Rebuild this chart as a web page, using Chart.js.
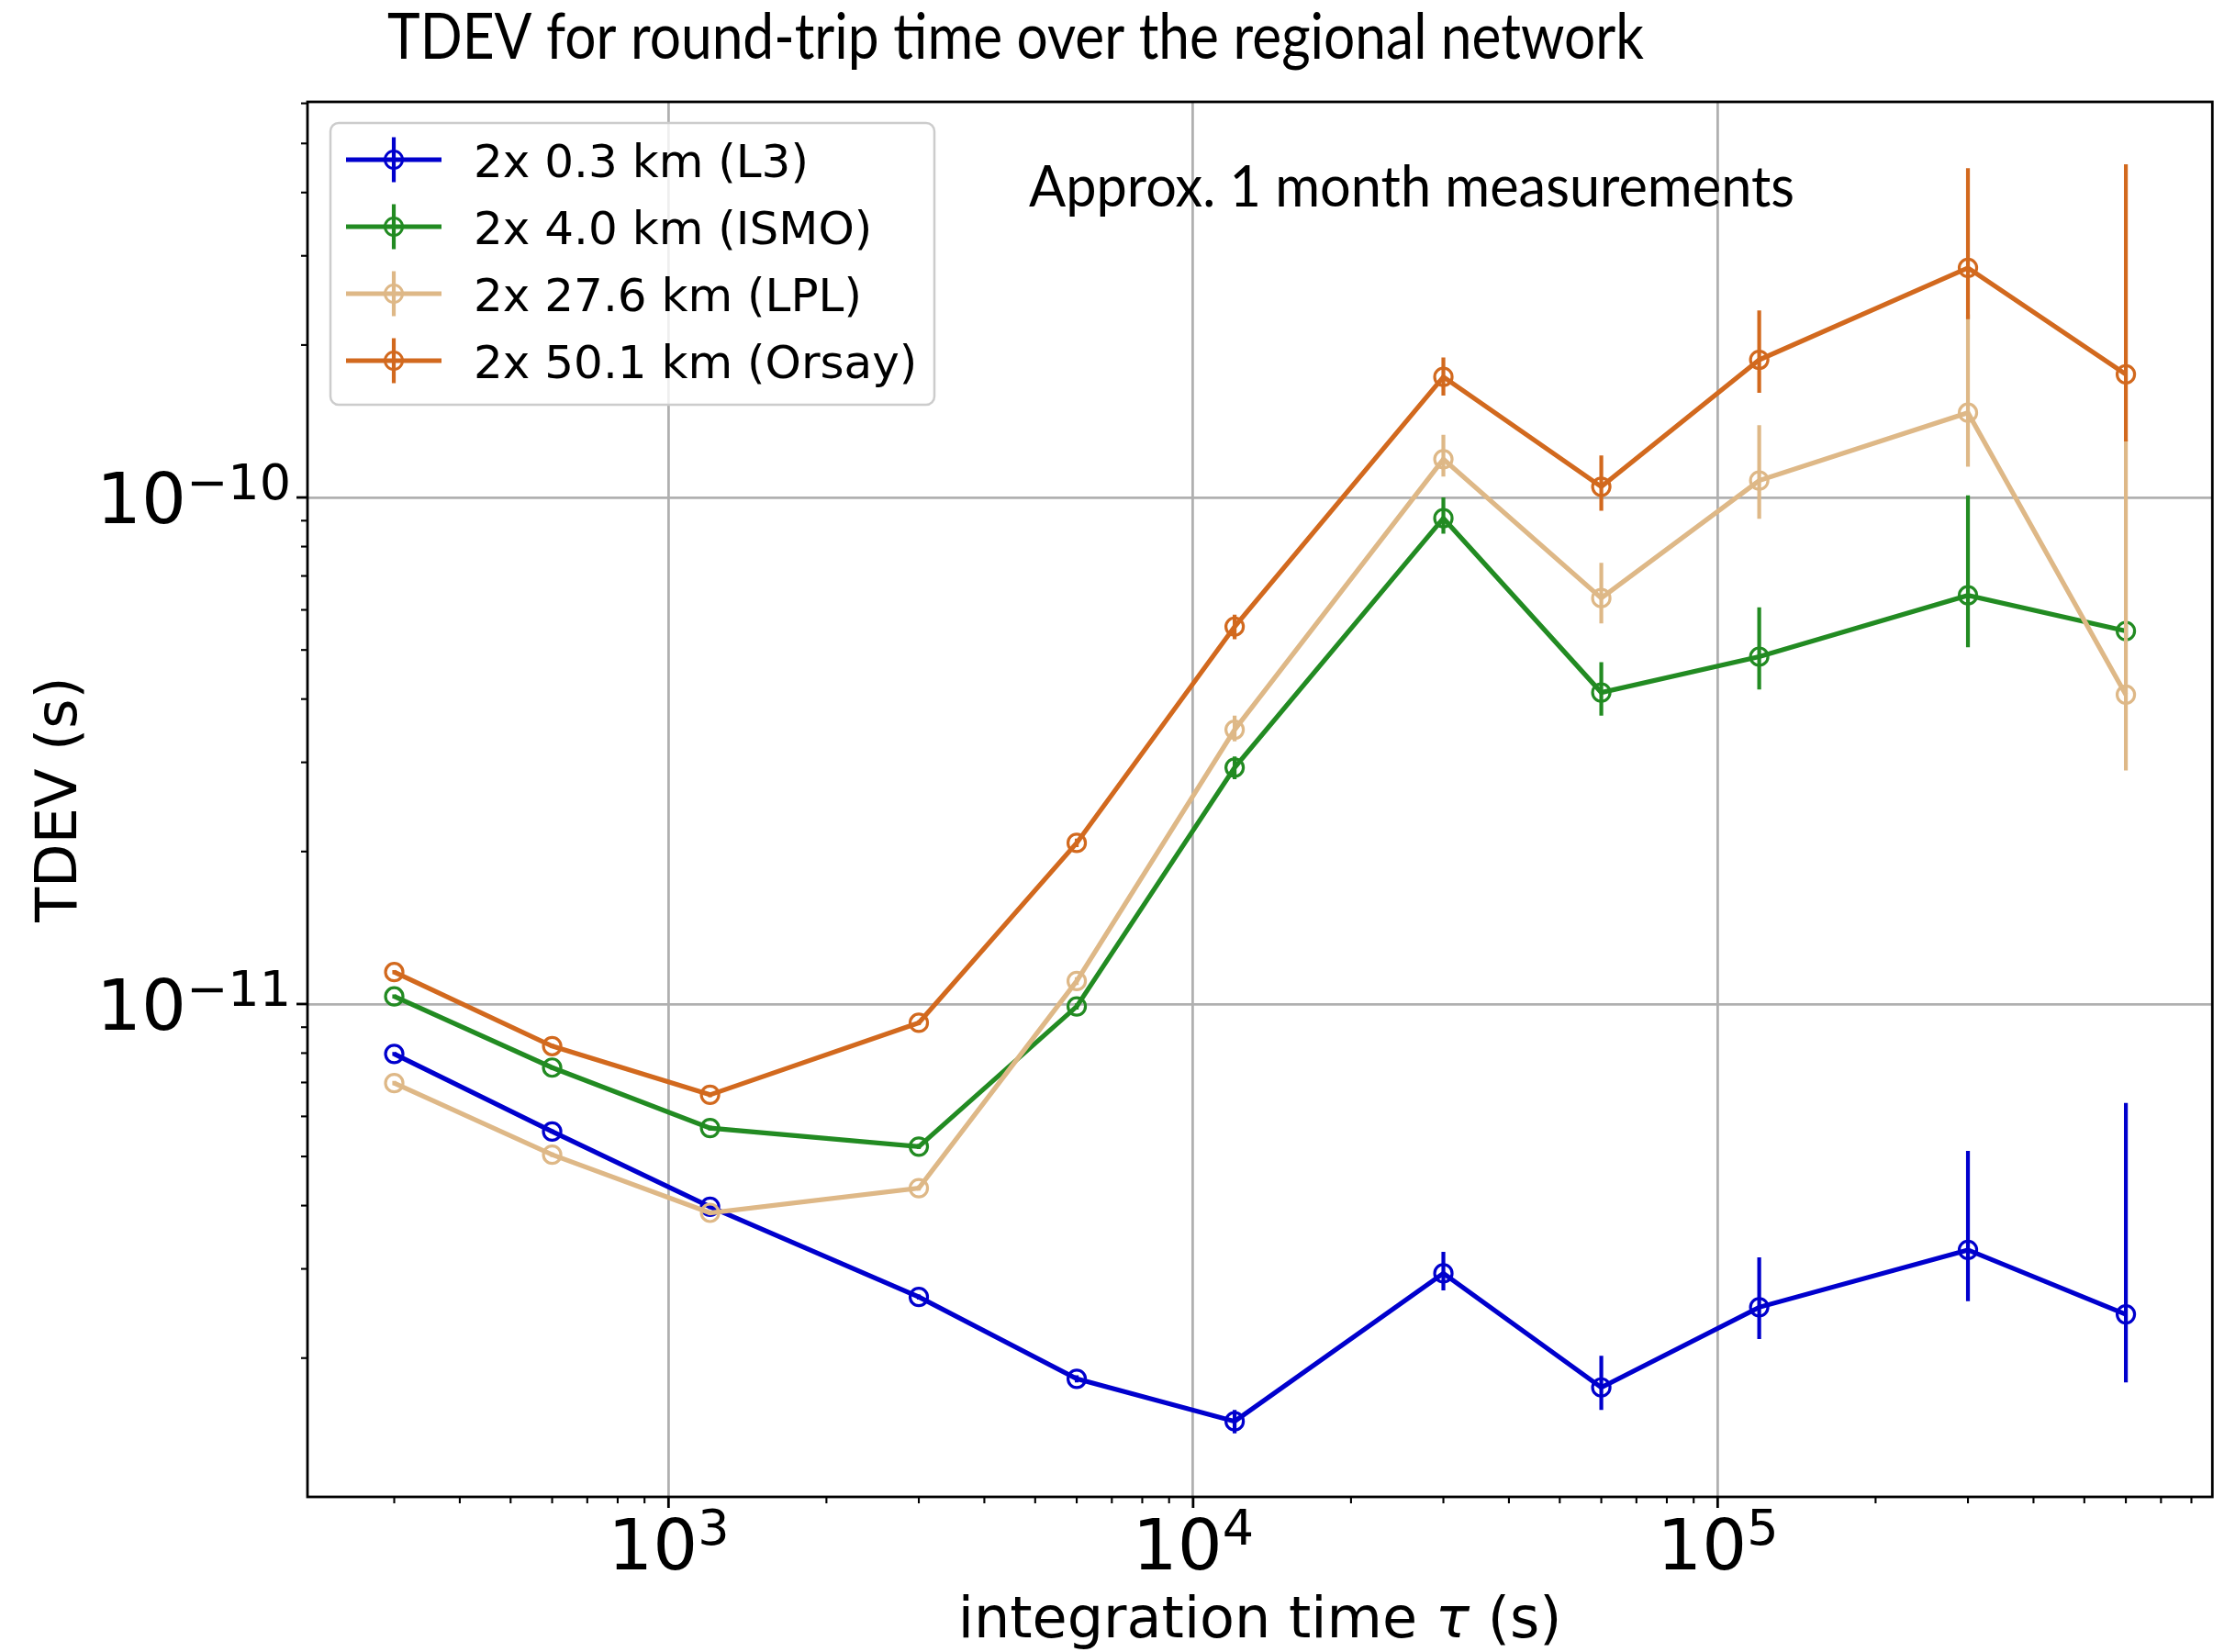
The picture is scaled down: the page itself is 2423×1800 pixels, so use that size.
<!DOCTYPE html>
<html>
<head>
<meta charset="utf-8">
<title>TDEV round-trip time</title>
<script src="https://cdn.jsdelivr.net/npm/chart.js@4.4.1/dist/chart.umd.min.js"></script>
<style>
  html, body { margin: 0; padding: 0; background: #fff; }
  canvas { display: block; }
</style>
</head>
<body>
<canvas id="tdevChart" width="2423" height="1800" style="width:2423px;height:1800px"></canvas>
<script>
// DATA (integration time tau in s, TDEV in s)
const taus = [300, 600, 1200, 3000, 6000, 12000, 30000, 60000, 120000, 300000, 600000];

const tdevL3   = [7.97e-12, 5.60e-12, 3.98e-12, 2.64e-12, 1.82e-12, 1.50e-12, 2.94e-12, 1.75e-12, 2.52e-12, 3.27e-12, 2.44e-12];
const loL3     = [7.90e-12, 5.55e-12, 3.94e-12, 2.61e-12, 1.79e-12, 1.42e-12, 2.72e-12, 1.58e-12, 2.18e-12, 2.59e-12, 1.79e-12];
const hiL3     = [8.04e-12, 5.65e-12, 4.02e-12, 2.67e-12, 1.85e-12, 1.58e-12, 3.24e-12, 2.02e-12, 3.16e-12, 5.13e-12, 6.38e-12];

const tdevISMO = [1.035e-11, 7.49e-12, 5.69e-12, 5.23e-12, 9.89e-12, 2.93e-11, 9.10e-11, 4.12e-11, 4.85e-11, 6.41e-11, 5.45e-11];
const loISMO   = [1.025e-11, 7.42e-12, 5.63e-12, 5.17e-12, 9.75e-12, 2.78e-11, 8.48e-11, 3.71e-11, 4.18e-11, 5.06e-11, 5.30e-11];
const hiISMO   = [1.045e-11, 7.56e-12, 5.75e-12, 5.29e-12, 1.003e-11, 3.08e-11, 1.00e-10, 4.73e-11, 6.07e-11, 1.01e-10, 5.60e-11];

const tdevLPL  = [6.98e-12, 5.04e-12, 3.87e-12, 4.33e-12, 1.11e-11, 3.48e-11, 1.19e-10, 6.33e-11, 1.08e-10, 1.47e-10, 4.08e-11];
const loLPL    = [6.91e-12, 4.99e-12, 3.83e-12, 4.28e-12, 1.09e-11, 3.30e-11, 1.10e-10, 5.64e-11, 9.08e-11, 1.15e-10, 2.89e-11];
const hiLPL    = [7.05e-12, 5.09e-12, 3.91e-12, 4.38e-12, 1.13e-11, 3.71e-11, 1.33e-10, 7.43e-11, 1.39e-10, 2.30e-10, 1.30e-10];

const tdevOrsay = [1.156e-11, 8.26e-12, 6.62e-12, 9.18e-12, 2.08e-11, 5.56e-11, 1.73e-10, 1.05e-10, 1.87e-10, 2.84e-10, 1.75e-10];
const loOrsay   = [1.145e-11, 8.18e-12, 6.55e-12, 9.08e-12, 2.04e-11, 5.25e-11, 1.59e-10, 9.42e-11, 1.61e-10, 2.25e-10, 1.29e-10];
const hiOrsay   = [1.167e-11, 8.34e-12, 6.69e-12, 9.28e-12, 2.12e-11, 5.87e-11, 1.89e-10, 1.21e-10, 2.34e-10, 4.47e-10, 4.55e-10];

const seriesLabels = ['2x 0.3 km (L3)', '2x 4.0 km (ISMO)', '2x 27.6 km (LPL)', '2x 50.1 km (Orsay)'];
const seriesColors = ['#0000cd', '#228b22', '#deb887', '#d2691e'];

// tick labels
const xMajorTicks = [1e3, 1e4, 1e5];
const xTickExp = ['3', '4', '5'];
const yMajorTicks = [1e-11, 1e-10];
const yTickExp = ['\u221211', '\u221210'];

const chartTitle = 'TDEV for round-trip time over the regional network';
const noteText = 'Approx. 1 month measurements';

// axis limits (log)
const xMin = 205, xMax = 877000;
const yMin = 1.064e-12, yMax = 6.04e-10;

const series = [
  { label: seriesLabels[0], color: seriesColors[0], vals: tdevL3, lo: loL3, hi: hiL3 },
  { label: seriesLabels[1], color: seriesColors[1], vals: tdevISMO, lo: loISMO, hi: hiISMO },
  { label: seriesLabels[2], color: seriesColors[2], vals: tdevLPL, lo: loLPL, hi: hiLPL },
  { label: seriesLabels[3], color: seriesColors[3], vals: tdevOrsay, lo: loOrsay, hi: hiOrsay }
];

const MPL = 'DejaVu Sans';

function minorTicks(min, max) {
  const out = [];
  for (let d = Math.floor(Math.log10(min)); d <= Math.ceil(Math.log10(max)); d++) {
    for (let m = 2; m <= 9; m++) {
      const v = m * Math.pow(10, d);
      if (v > min && v < max) out.push(v);
    }
  }
  return out;
}

// 10^exp label, align: 'right' or 'center'
function drawPow(ctx, exp, x, y, align, mainSize, supSize, raise) {
  ctx.font = `${mainSize}px "${MPL}"`;
  const w1 = ctx.measureText('10').width;
  ctx.font = `${supSize}px "${MPL}"`;
  const w2 = ctx.measureText(exp).width;
  const total = w1 + w2;
  const x0 = align === 'right' ? x - total : x - total / 2;
  ctx.textAlign = 'left';
  ctx.textBaseline = 'alphabetic';
  ctx.font = `${mainSize}px "${MPL}"`;
  ctx.fillText('10', x0, y);
  ctx.font = `${supSize}px "${MPL}"`;
  ctx.fillText(exp, x0 + w1, y - raise);
}

function fitText(ctx, text, x, y, size, family, targetW) {
  ctx.font = `${size}px ${family}`;
  const w = ctx.measureText(text).width;
  ctx.save();
  ctx.translate(x, y);
  ctx.scale(targetW / w, 1);
  ctx.textAlign = 'left';
  ctx.textBaseline = 'alphabetic';
  ctx.fillText(text, 0, 0);
  ctx.restore();
}

const tdevDecor = {
  id: 'tdevDecor',
  beforeDraw(chart) {
    const ctx = chart.ctx;
    ctx.save();
    ctx.fillStyle = '#ffffff';
    ctx.fillRect(0, 0, chart.width, chart.height);
    ctx.restore();
  },
  // error bars, drawn together with their own series
  afterDatasetDraw(chart, args) {
    const s = series[args.index];
    const xs = chart.scales.x, ys = chart.scales.y;
    const a = chart.chartArea;
    const ctx = chart.ctx;
    ctx.save();
    ctx.beginPath();
    ctx.rect(a.left, a.top, a.right - a.left, a.bottom - a.top);
    ctx.clip();
    ctx.strokeStyle = s.color;
    ctx.lineWidth = 4.2;
    ctx.lineCap = 'butt';
    taus.forEach((t, i) => {
      const px = xs.getPixelForValue(t);
      ctx.beginPath();
      ctx.moveTo(px, ys.getPixelForValue(s.lo[i]));
      ctx.lineTo(px, ys.getPixelForValue(s.hi[i]));
      ctx.stroke();
    });
    ctx.restore();
  },
  afterDraw(chart) {
    const ctx = chart.ctx;
    const a = chart.chartArea;
    const xs = chart.scales.x, ys = chart.scales.y;
    ctx.save();

    // frame
    ctx.strokeStyle = '#000';
    ctx.lineWidth = 2.8;
    ctx.strokeRect(a.left, a.top, a.right - a.left, a.bottom - a.top);

    // tick marks
    ctx.lineWidth = 2.8;
    xMajorTicks.forEach(v => {
      const px = xs.getPixelForValue(v);
      ctx.beginPath(); ctx.moveTo(px, a.bottom); ctx.lineTo(px, a.bottom + 12); ctx.stroke();
    });
    yMajorTicks.forEach(v => {
      const py = ys.getPixelForValue(v);
      ctx.beginPath(); ctx.moveTo(a.left, py); ctx.lineTo(a.left - 12, py); ctx.stroke();
    });
    ctx.lineWidth = 2.1;
    minorTicks(xMin, xMax).forEach(v => {
      const px = xs.getPixelForValue(v);
      ctx.beginPath(); ctx.moveTo(px, a.bottom); ctx.lineTo(px, a.bottom + 7); ctx.stroke();
    });
    minorTicks(yMin, yMax).forEach(v => {
      const py = ys.getPixelForValue(v);
      ctx.beginPath(); ctx.moveTo(a.left, py); ctx.lineTo(a.left - 7, py); ctx.stroke();
    });

    // tick labels
    ctx.fillStyle = '#000';
    xMajorTicks.forEach((v, i) => {
      drawPow(ctx, xTickExp[i], xs.getPixelForValue(v), a.bottom + 79, 'center', 77, 54, 27);
    });
    yMajorTicks.forEach((v, i) => {
      drawPow(ctx, yTickExp[i], a.left - 18, ys.getPixelForValue(v) + 28, 'right', 77, 54, 26);
    });

    // axis titles
    ctx.font = `62px "${MPL}"`;
    ctx.textBaseline = 'alphabetic';
    ctx.save();
    ctx.translate(83, (a.top + a.bottom) / 2);
    ctx.rotate(-Math.PI / 2);
    ctx.textAlign = 'center';
    ctx.fillText('TDEV (s)', 0, 0);
    ctx.restore();

    const p1 = 'integration time ', p2 = '\u03c4', p3 = ' (s)';
    ctx.font = `62px "${MPL}"`;
    const w1 = ctx.measureText(p1).width, w3 = ctx.measureText(p3).width;
    ctx.font = `italic 62px "${MPL}"`;
    const w2 = ctx.measureText(p2).width;
    let tx = (a.left + a.right) / 2 - (w1 + w2 + w3) / 2;
    const ty = 1784;
    ctx.textAlign = 'left';
    ctx.font = `62px "${MPL}"`;
    ctx.fillText(p1, tx, ty);
    ctx.font = `italic 62px "${MPL}"`;
    ctx.fillText(p2, tx + w1, ty);
    ctx.font = `62px "${MPL}"`;
    ctx.fillText(p3, tx + w1 + w2, ty);

    // legend
    const lx = 360, ly = 134, lw = 658, lh = 307;
    ctx.beginPath();
    ctx.roundRect(lx, ly, lw, lh, 9);
    ctx.fillStyle = 'rgba(255,255,255,0.8)';
    ctx.fill();
    ctx.strokeStyle = '#cccccc';
    ctx.lineWidth = 2.5;
    ctx.stroke();
    series.forEach((s, i) => {
      const yy = 174 + i * 73;
      ctx.strokeStyle = s.color;
      ctx.lineWidth = 5;
      ctx.beginPath(); ctx.moveTo(377, yy); ctx.lineTo(481, yy); ctx.stroke();
      ctx.lineWidth = 4.2;
      ctx.beginPath(); ctx.moveTo(429, yy - 24.5); ctx.lineTo(429, yy + 24.5); ctx.stroke();
      ctx.lineWidth = 3;
      ctx.beginPath(); ctx.arc(429, yy, 9.5, 0, Math.PI * 2); ctx.stroke();
      ctx.fillStyle = '#000';
      ctx.font = `50px "${MPL}"`;
      ctx.textAlign = 'left';
      ctx.fillText(s.label, 516, yy + 19);
    });

    // title and note
    ctx.fillStyle = '#000';
    fitText(ctx, chartTitle, 422, 64, 70, 'Lato', 1369);
    fitText(ctx, noteText, 1121, 225, 62, 'Lato', 834);

    ctx.restore();
  }
};

new Chart(document.getElementById('tdevChart'), {
  type: 'line',
  data: {
    datasets: series.map((s, i) => ({
      label: s.label,
      data: taus.map((t, j) => ({ x: t, y: s.vals[j] })),
      borderColor: s.color,
      borderWidth: 5.2,
      pointStyle: 'circle',
      pointRadius: 9.5,
      pointBorderWidth: 3.2,
      pointBorderColor: s.color,
      pointBackgroundColor: 'rgba(255,255,255,0)',
      tension: 0,
      fill: false,
      order: series.length - 1 - i
    }))
  },
  options: {
    responsive: false,
    animation: false,
    devicePixelRatio: 1,
    layout: { padding: { left: 335, top: 111, right: 0, bottom: 169 } },
    plugins: {
      legend: { display: false },
      tooltip: { enabled: false },
      title: { display: false }
    },
    scales: {
      x: {
        type: 'logarithmic',
        min: xMin, max: xMax,
        afterBuildTicks: sc => { sc.ticks = xMajorTicks.map(v => ({ value: v })); },
        ticks: { display: false },
        border: { display: false },
        grid: { color: '#b0b0b0', lineWidth: 2.8, drawTicks: false }
      },
      y: {
        type: 'logarithmic',
        min: yMin, max: yMax,
        afterBuildTicks: sc => { sc.ticks = yMajorTicks.map(v => ({ value: v })); },
        ticks: { display: false },
        border: { display: false },
        grid: { color: '#b0b0b0', lineWidth: 2.8, drawTicks: false }
      }
    }
  },
  plugins: [tdevDecor]
});
</script>
</body>
</html>
